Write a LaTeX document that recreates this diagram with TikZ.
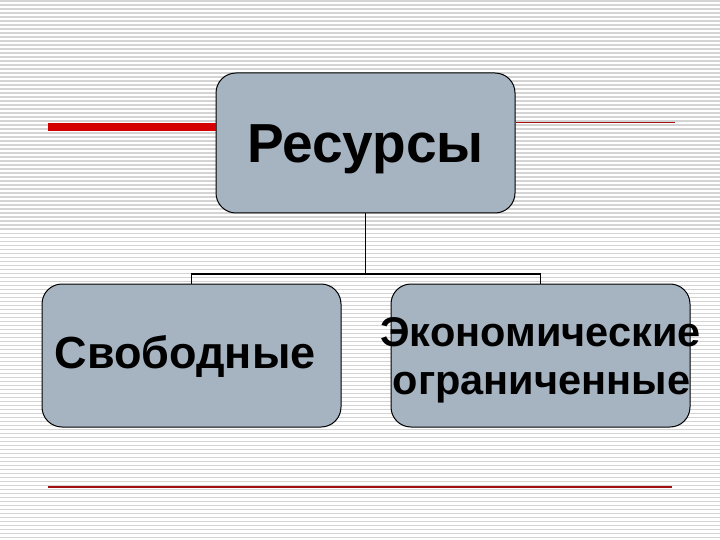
\documentclass[tikz,border=0pt]{standalone}
\usepackage{fontspec}
\setmainfont{Liberation Sans}
\definecolor{boxfill}{HTML}{A6B3C1}
\definecolor{stripe}{HTML}{D4D4D4}
\definecolor{redthick}{HTML}{D40000}
\definecolor{redthin}{HTML}{A01010}
\tikzset{
  rbox/.style={draw=black, line width=1pt, fill=boxfill, rounded corners=20pt, inner sep=0pt},
  conn/.style={draw=black, line width=1.6pt},
  lbl/.style={anchor=base, inner sep=0pt, font=\bfseries},
}
\begin{document}
\begin{tikzpicture}[x=1pt, y=-1pt]
\useasboundingbox (0,0) rectangle (720,540);
\fill[white] (0,0) rectangle (720,540);
\foreach \i in {0,...,134} {
  \draw[stripe, line width=1.4pt] (0,{\i*4+1.2}) -- (720,{\i*4+1.2});
}
% boxes
\node[rbox, minimum width=299pt, minimum height=140pt] (top) at (365.5,143) {};
\node[rbox, minimum width=299pt, minimum height=143pt] (left) at (191.5,355.5) {};
\node[rbox, minimum width=299pt, minimum height=143pt] (right) at (540.5,355.5) {};
% connectors
\coordinate (joint) at (365.5,274);
\draw[conn] (top.south) -- (joint);
\draw[conn] (joint) -| (left.north);
\draw[conn] (joint) -| (right.north);
% decorative lines
\coordinate (rs) at (48,127);
\draw[redthick, line width=8pt] (rs) -- (rs -| top.west);
\coordinate (re) at (675,123);
\draw[redthin, line width=1pt] (re -| top.east) -- (re);
\coordinate (bl) at (48,487);
\coordinate (br) at (672,487);
\draw[redthin, line width=1.2pt] (bl) -- (br);
% labels
\node[lbl, font=\bfseries\fontsize{55}{60}\selectfont] (t1) at (365.5,163) {Ресурсы};
\node[lbl, font=\bfseries\fontsize{45}{50}\selectfont] (t2) at (185,368) {Свободные};
\node[lbl, font=\bfseries\fontsize{41.5}{46}\selectfont] (t3) at (540.5,346) {Экономические};
\node[lbl, font=\bfseries\fontsize{41.5}{46}\selectfont] (t4) at (541.5,394) {ограниченные};
\end{tikzpicture}
\end{document}
